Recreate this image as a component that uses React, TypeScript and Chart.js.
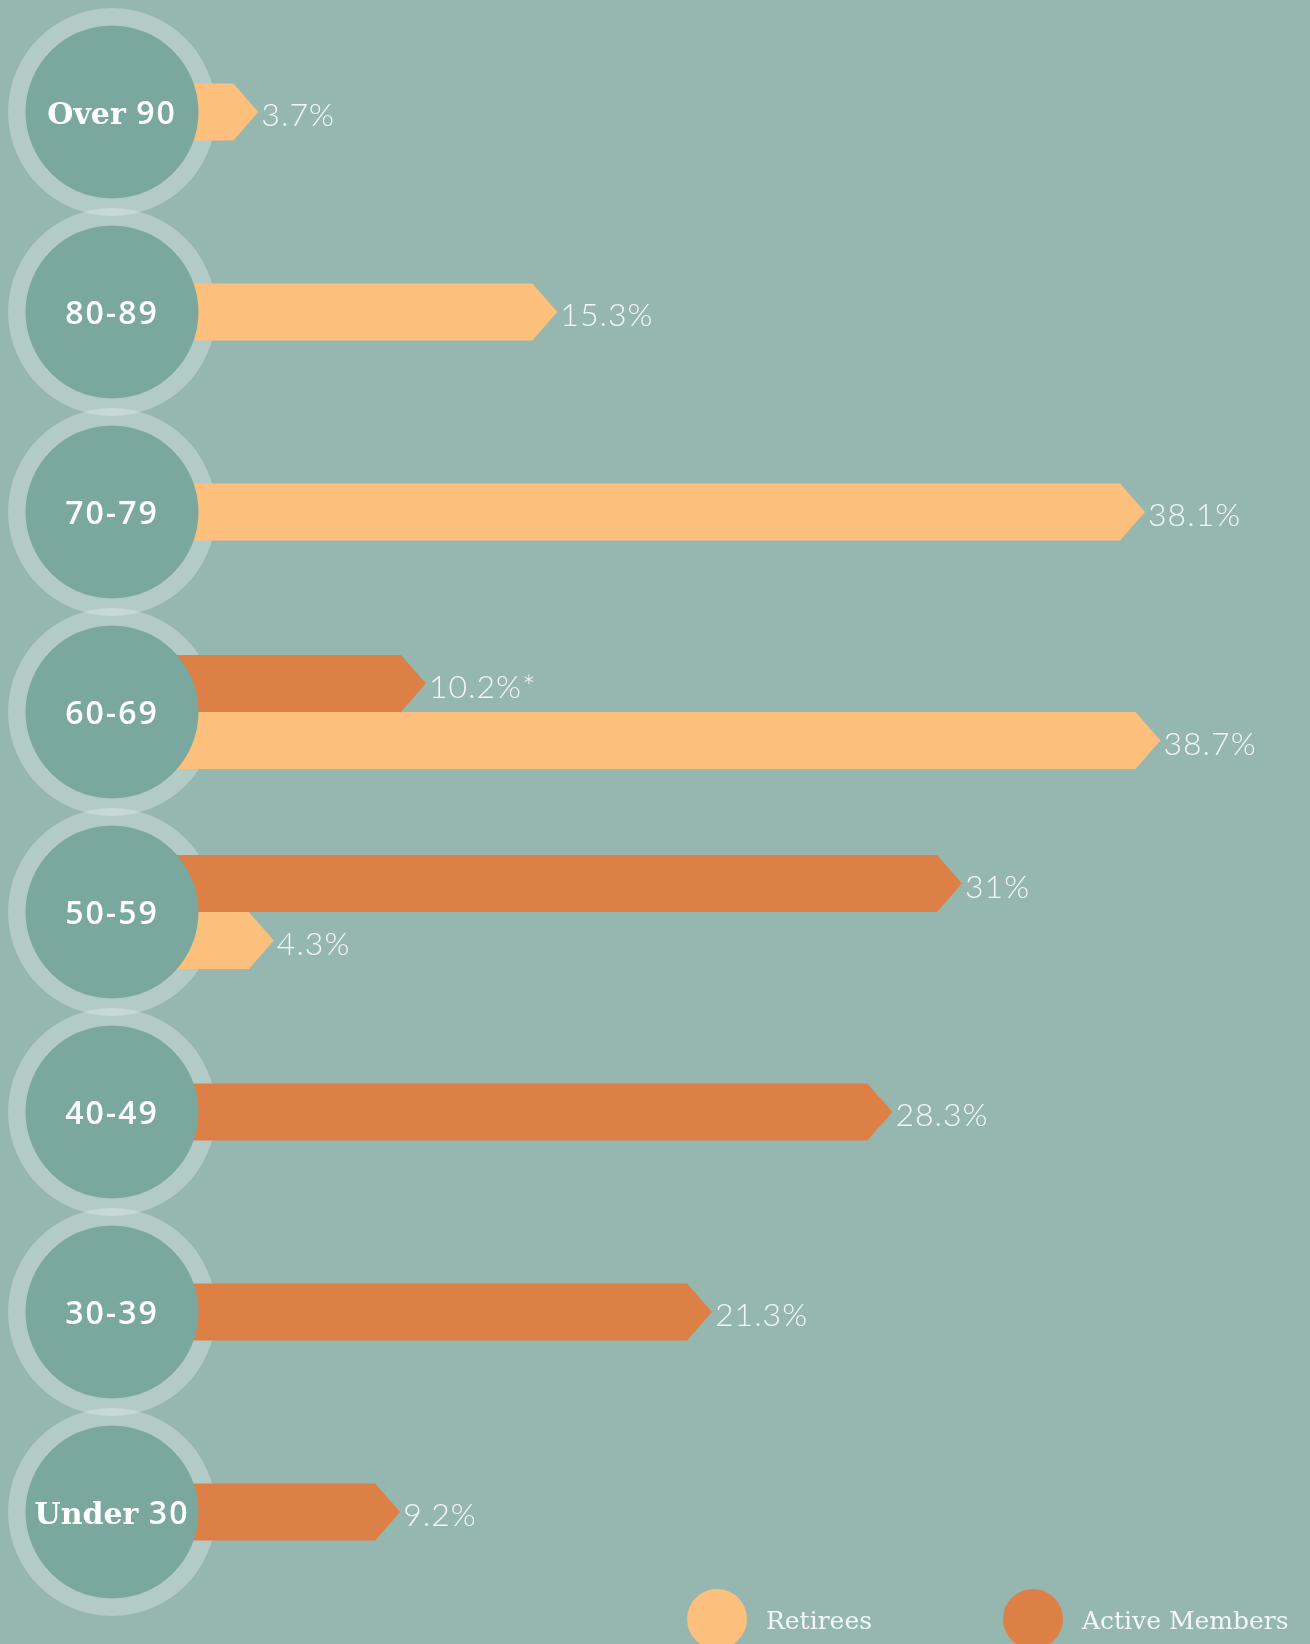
import { useEffect, useRef } from "react";
import { Chart, registerables } from "chart.js";

Chart.register(...registerables);

// ---- data ----
const categories = ["Over 90", "80-89", "70-79", "60-69", "50-59", "40-49", "30-39", "Under 30"];
const retirees = [3.7, 15.3, 38.1, 38.7, 4.3, null, null, null];
const activeMembers = [null, null, null, 10.2, 31, 28.3, 21.3, 9.2];
const retireeNotes = ["", "", "", "", "", "", "", ""];
const activeNotes = ["", "", "", "*", "", "", "", ""];
const seriesNames = ["Active Members", "Retirees"];
const legendOrder = ["Retirees", "Active Members"];

// ---- styles ----
const BG = "#95b7b0";
const RETIREE_COLOR = "#fcc07c";
const ACTIVE_COLOR = "#dc8046";
const INNER = "#7aa89f";
const RING = "rgba(255,255,255,0.28)";
const TEXT = "#f3f7f6";
const CIRCLE_X = 112;
const RING_R = 104;
const INNER_R = 86.5;
const TIP = 25;
const LETTER_FONT = "bold 30px 'DejaVu Serif'";
const DIGIT_FONT = "600 32px 'Open Sans'";

const notes = [activeNotes, retireeNotes];

function drawMixedLabel(ctx: any, text: string, cx: number, cy: number) {
  // split into runs: letters use slab serif, digits/hyphens use sans
  const runs: { t: string; letter: boolean }[] = [];
  for (const ch of text) {
    const letter = /[A-Za-z]/.test(ch) || (ch === " " && runs.length > 0 && runs[runs.length - 1].letter);
    if (runs.length && runs[runs.length - 1].letter === letter) runs[runs.length - 1].t += ch;
    else runs.push({ t: ch, letter });
  }
  const widths = runs.map((r) => {
    ctx.font = r.letter ? LETTER_FONT : DIGIT_FONT;
    (ctx as any).letterSpacing = r.letter ? "0px" : "2px";
    return ctx.measureText(r.t).width;
  });
  const total = widths.reduce((a, b) => a + b, 0);
  let x = cx - total / 2;
  ctx.textAlign = "left";
  ctx.textBaseline = "alphabetic";
  ctx.fillStyle = "#ffffff";
  runs.forEach((r, k) => {
    ctx.font = r.letter ? LETTER_FONT : DIGIT_FONT;
    (ctx as any).letterSpacing = r.letter ? "0px" : "2px";
    ctx.fillText(r.t, x, cy + 12);
    x += widths[k];
  });
  (ctx as any).letterSpacing = "0px";
}

const shapesPlugin = {
  id: "shapes",
  beforeDraw(chart: any) {
    const ctx = chart.ctx;
    ctx.save();
    ctx.fillStyle = BG;
    ctx.fillRect(0, 0, chart.width, chart.height);
    ctx.restore();
  },
  beforeDatasetsDraw(chart: any) {
    const ctx = chart.ctx;
    const yScale = chart.scales.y;
    ctx.save();
    // outer translucent rings
    categories.forEach((_, i) => {
      const cy = yScale.getPixelForValue(i);
      ctx.beginPath();
      ctx.arc(CIRCLE_X, cy, RING_R, 0, Math.PI * 2);
      ctx.fillStyle = RING;
      ctx.fill();
    });
    // arrow bars
    chart.data.datasets.forEach((ds: any, d: number) => {
      const meta = chart.getDatasetMeta(d);
      meta.data.forEach((el: any, i: number) => {
        const v = ds.data[i];
        if (v === null || v === undefined) return;
        const { x, y, base, height } = el.getProps(["x", "y", "base", "height"], true);
        const top = y - height / 2;
        const bottom = y + height / 2;
        const tip = Math.min(TIP, x - base);
        ctx.beginPath();
        ctx.moveTo(base, top);
        ctx.lineTo(x - tip, top);
        ctx.lineTo(x, y);
        ctx.lineTo(x - tip, bottom);
        ctx.lineTo(base, bottom);
        ctx.closePath();
        ctx.fillStyle = ds.backgroundColor;
        ctx.fill();
      });
    });
    // inner circles + category labels
    categories.forEach((c, i) => {
      const cy = yScale.getPixelForValue(i);
      ctx.beginPath();
      ctx.arc(CIRCLE_X, cy, INNER_R, 0, Math.PI * 2);
      ctx.fillStyle = INNER;
      ctx.fill();
      drawMixedLabel(ctx, c, CIRCLE_X, cy);
    });
    // value labels
    chart.data.datasets.forEach((ds: any, d: number) => {
      const meta = chart.getDatasetMeta(d);
      meta.data.forEach((el: any, i: number) => {
        const v = ds.data[i];
        if (v === null || v === undefined) return;
        const { x, y } = el.getProps(["x", "y"], true);
        ctx.fillStyle = TEXT;
        ctx.font = "300 32px Lato";
        (ctx as any).letterSpacing = "1px";
        ctx.textAlign = "left";
        ctx.textBaseline = "alphabetic";
        ctx.fillText(`${v}%${notes[d][i]}`, x + 3, y + 14);
        (ctx as any).letterSpacing = "0px";
      });
    });
    ctx.restore();
    return false;
  },
  afterDraw(chart: any) {
    const ctx = chart.ctx;
    ctx.save();
    const positions = [717, 1033];
    legendOrder.forEach((name, k) => {
      const ds = chart.data.datasets.find((d: any) => d.label === name);
      const cx = positions[k];
      const cy = 1619;
      ctx.beginPath();
      ctx.arc(cx, cy, 30, 0, Math.PI * 2);
      ctx.fillStyle = ds.backgroundColor;
      ctx.fill();
      ctx.fillStyle = TEXT;
      ctx.font = "25px 'DejaVu Serif'";
      ctx.textAlign = "left";
      ctx.textBaseline = "alphabetic";
      ctx.fillText(name, cx + 49, 1629);
    });
    ctx.restore();
  },
};

export default function App() {
  const ref = useRef<HTMLCanvasElement>(null);
  useEffect(() => {
    document.body.style.margin = "0";
    const chart = new Chart(ref.current as HTMLCanvasElement, {
      type: "bar",
      data: {
        labels: categories,
        datasets: [
          {
            label: seriesNames[0],
            data: activeMembers,
            backgroundColor: ACTIVE_COLOR,
            barThickness: 57,
            skipNull: true,
          } as any,
          {
            label: seriesNames[1],
            data: retirees,
            backgroundColor: RETIREE_COLOR,
            barThickness: 57,
            skipNull: true,
          } as any,
        ],
      },
      options: {
        indexAxis: "y",
        animation: false,
        responsive: false,
        devicePixelRatio: 1,
        layout: { padding: { left: 163, right: 0, top: 12, bottom: 32 } },
        scales: {
          x: { display: false, min: 0, max: 44.5 },
          y: { display: false },
        },
        plugins: {
          legend: { display: false },
          tooltip: { enabled: false },
        },
      },
      plugins: [shapesPlugin],
    });
    return () => chart.destroy();
  }, []);
  return (
    <div style={{ width: 1310, height: 1644 }}>
      <canvas ref={ref} width={1310} height={1644} style={{ display: "block", width: 1310, height: 1644 }} />
    </div>
  );
}
